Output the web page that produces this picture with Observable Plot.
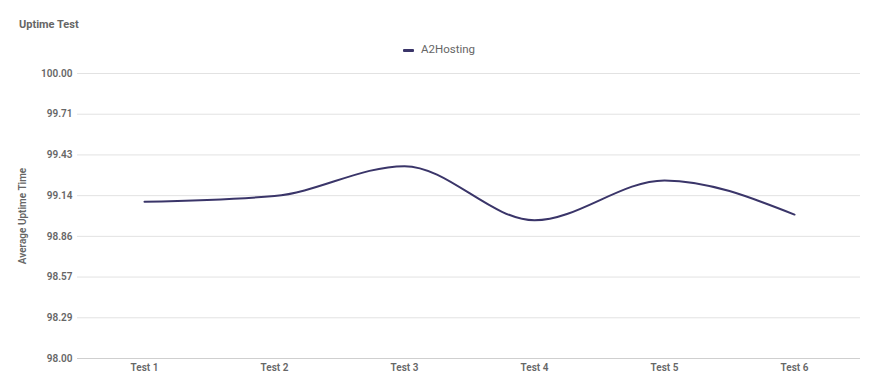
<!DOCTYPE html>
<html><head><meta charset="utf-8">
<script src="https://cdn.jsdelivr.net/npm/d3@7"></script>
<script src="https://cdn.jsdelivr.net/npm/@observablehq/plot@0.6"></script>
<style>
body{margin:0;background:#fff;font-family:Roboto,"Noto Sans",sans-serif;width:880px;height:388px;overflow:hidden;}
#title{height:38px;box-sizing:border-box;padding:18px 0 0 19px;font-size:11px;line-height:13px;font-weight:700;color:#666;}
#legend{height:24px;position:relative;}
#legend .sw{position:absolute;left:403px;top:11px;width:11px;height:3px;background:#3a3569;border-radius:1px;}
#legend .lb{position:absolute;left:421px;top:4px;font-size:11.5px;line-height:14px;color:#666;}
svg{display:block;}
</style></head>
<body>
<div id="title">Uptime Test</div>
<div id="legend"><span class="sw"></span><span class="lb">A2Hosting</span></div>
<div id="chart"></div>
<script>
const categories = ["Test 1","Test 2","Test 3","Test 4","Test 5","Test 6"];
const uptime = [99.10, 99.14, 99.35, 98.97, 99.25, 99.01];
const yTicks = [98.00, 98.29, 98.57, 98.86, 99.14, 99.43, 99.71, 100.00];
const seriesName = "A2Hosting";

const data = categories.map((c, i) => ({test: c, value: uptime[i], series: seriesName}));
const tickVals = yTicks.map((t, i) => 98 + i * 2 / 7);

const chart = Plot.plot({
  width: 880,
  height: 326,
  marginTop: 11,
  marginBottom: 30,
  marginLeft: 77,
  marginRight: 20,
  style: {fontFamily: "Roboto, 'Noto Sans', sans-serif", fontSize: "10px", color: "#666", background: "#fff"},
  x: {type: "point", domain: categories, padding: 0.5},
  y: {domain: [98, 100]},
  marks: [
    Plot.gridY(tickVals.slice(1), {stroke: "#e2e2e2", strokeOpacity: 1, strokeWidth: 1}),
    Plot.ruleY([98], {stroke: "#cfcfcf", strokeWidth: 1}),
    Plot.axisY({ticks: tickVals, tickSize: 0, tickPadding: 5, tickFormat: (d, i) => yTicks[i].toFixed(2),
      fontWeight: 600, fill: "#666",
      label: "Average Uptime Time", labelAnchor: "center", labelArrow: "none", labelOffset: 59}),
    Plot.axisX({tickSize: 0, tickPadding: 5, fontWeight: 600, fill: "#666", label: null}),
    Plot.line(data, {x: "test", y: "value", stroke: "#3a3569", strokeWidth: 2, curve: "monotone-x"})
  ]
});
document.getElementById("chart").appendChild(chart);
</script>
</body></html>
